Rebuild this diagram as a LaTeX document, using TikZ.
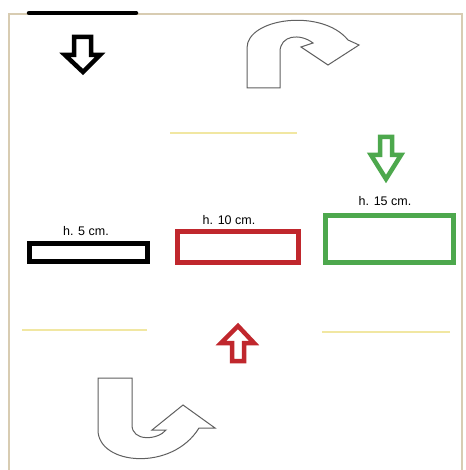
\documentclass[tikz,border=0pt]{standalone}
\usepackage{fontspec}
\setmainfont{Liberation Sans}
\definecolor{frame}{HTML}{D8CCB2}
\definecolor{myred}{HTML}{C0272D}
\definecolor{mygreen}{HTML}{4DA84D}
\definecolor{myyellow}{HTML}{F1E7A2}
\definecolor{sketch}{HTML}{606060}
\begin{document}
\begin{tikzpicture}[x=1pt,y=-1pt,
  boxs/.style={draw,line width=5pt,rectangle,inner sep=0pt,anchor=north west},
  lbl/.style={font=\fontsize{12.5}{13}\selectfont,inner sep=0pt},
  blockarrow/.style={line width=4.5pt,line join=miter,fill=white},
  uturn/.style={draw=sketch,line width=1pt,fill=white},
  yline/.style={draw=myyellow,line width=2pt}]
\useasboundingbox (0,0) rectangle (465,470);
\fill[white] (0,0) rectangle (465,470);
% frame
\draw[frame,line width=2pt] (9,470) -- (9,14) -- (462,14) -- (462,470);
% top black bar
\draw[line width=4.5pt,line cap=round] (29,13) -- (136,13);
% black down arrow
\draw[blockarrow,draw=black] (74,37) -- (91,37) -- (91,55) -- (100,55) -- (83,72) -- (65,55) -- (74,55) -- cycle;
% top u-turn arrow
\draw[uturn] (247,88) -- (247,48) .. controls (247,18) and (322,8) .. (348,40)
  -- (359,45) -- (328,65) -- (301,47) -- (313,43)
  .. controls (300,33) and (280,35) .. (280,52) -- (280,88) -- cycle;
% yellow lines
\draw[yline] (170,133) -- (297,133);
\draw[yline] (22,330) -- (147,330);
\draw[yline] (322,332) -- (450,332);
% green down arrow
\draw[blockarrow,draw=mygreen] (380,137) -- (392,137) -- (392,155) -- (401,155) -- (386,179) -- (371,155) -- (380,155) -- cycle;
% boxes
\node[boxs,minimum width=118pt,minimum height=18pt] (b5) at (26.5,240.5) {};
\node[boxs,draw=myred,minimum width=121pt,minimum height=31pt] (b10) at (174.5,228.5) {};
\node[boxs,draw=mygreen,minimum width=128pt,minimum height=47pt] (b15) at (322.5,212.5) {};
\node[lbl] (l5) at (86,231) {h. 5 cm.};
\node[lbl] (l10) at (229,220) {h. 10 cm.};
\node[lbl] (l15) at (385,201) {h. 15 cm.};
% red up arrow
\draw[blockarrow,draw=myred] (232,361) -- (244,361) -- (244,343) -- (254,343) -- (238,326) -- (221,343) -- (232,343) -- cycle;
% bottom u-turn arrow
\draw[uturn] (98,378) -- (98,430) .. controls (98,465) and (172,472) .. (199,428)
  -- (215,428) -- (183,405) -- (152,430) -- (166,430)
  .. controls (158,440) and (132,442) .. (132,425) -- (132,378) -- cycle;
\end{tikzpicture}
\end{document}
